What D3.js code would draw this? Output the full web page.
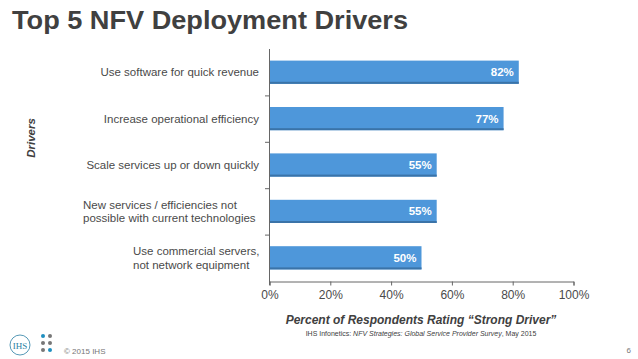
<!DOCTYPE html>
<html><head><meta charset="utf-8">
<script src="https://cdn.jsdelivr.net/npm/d3@7"></script>
<style>body{margin:0;background:#fff}svg{display:block;font-family:"Liberation Sans",Arial,sans-serif}</style>
</head><body><svg id="c" width="638" height="359"></svg>
<script>
const categories = [
  ["Use software for quick revenue"],
  ["Increase operational efficiency"],
  ["Scale services up or down quickly"],
  ["New services / efficiencies not", "possible with current technologies"],
  ["Use commercial servers,", "not network equipment"]
];
const values = [82, 77, 55, 55, 50];
const xTicks = [0, 20, 40, 60, 80, 100];

const svg = d3.select("#c");
const x = d3.scaleLinear().domain([0, 100]).range([269.5, 573.5]);
const y = d3.scaleBand().domain(d3.range(categories.length)).range([49, 281]).paddingInner(0.5).paddingOuter(0.25);

svg.append("text").attr("x", 12).attr("y", 29).attr("font-size", 26).attr("font-weight", "bold")
  .attr("fill", "#404040").attr("textLength", 396).attr("lengthAdjust", "spacingAndGlyphs")
  .text("Top 5 NFV Deployment Drivers");

// bars
const g = svg.append("g");
values.forEach((v, i) => {
  g.append("rect").attr("x", x(0)).attr("y", y(i)).attr("width", x(v) - x(0)).attr("height", y.bandwidth())
    .attr("fill", "#4E97DA");
  g.append("rect").attr("x", x(0)).attr("y", y(i) + y.bandwidth() - 2).attr("width", x(v) - x(0)).attr("height", 2)
    .attr("fill", "#3A73A8");
  g.append("text").attr("x", x(v) - 5).attr("y", y(i) + y.bandwidth() / 2 + 4).attr("text-anchor", "end")
    .attr("font-size", 11.5).attr("font-weight", "bold").attr("fill", "#fff").text(v + "%");
});

// y axis
const yb = d3.scaleBand().domain(d3.range(categories.length)).range([49, 281]);
svg.append("line").attr("x1", 269.5).attr("x2", 269.5).attr("y1", 49).attr("y2", 285).attr("stroke", "#666");
yb.domain().forEach(i => {
  if (i > 0) svg.append("line").attr("x1", 265).attr("x2", 269.5).attr("y1", yb(i) + 0.5).attr("y2", yb(i) + 0.5).attr("stroke", "#666");
});
categories.forEach((lines, i) => {
  const cy = y(i) + y.bandwidth() / 2;
  const t = svg.append("text").attr("text-anchor", lines.length > 1 ? "start" : "end").attr("font-size", 11.5).attr("fill", "#4a4a4a");
  const lh = 13.5;
  lines.forEach((ln, j) => {
    let xx = 259;
    if (lines.length > 1) xx = i === 3 ? 83 : 133;
    t.append("tspan").attr("x", xx).attr("y", cy + 4 + (j - (lines.length - 1) / 2) * lh).text(ln);
  });
});

// x axis
const xa = svg.append("g").attr("transform", "translate(0,281.5)")
  .call(d3.axisBottom(x).tickValues(xTicks).tickSize(4).tickFormat(d => d + "%"));
xa.select(".domain").attr("stroke", "#666");
xa.selectAll(".tick line").attr("stroke", "#666");
xa.selectAll(".tick text").attr("font-family", "Liberation Sans, Arial, sans-serif").attr("font-size", 12).attr("fill", "#4a4a4a").attr("dy", "0.85em");

svg.append("text").attr("transform", "translate(35,138) rotate(-90)").attr("text-anchor", "middle")
  .attr("font-size", 11.5).attr("font-weight", "bold").attr("font-style", "italic").attr("fill", "#404040").text("Drivers");

svg.append("text").attr("x", 421).attr("y", 324).attr("text-anchor", "middle").attr("font-size", 12)
  .attr("font-weight", "bold").attr("font-style", "italic").attr("fill", "#404040")
  .text("Percent of Respondents Rating \u201CStrong Driver\u201D");
const src = svg.append("text").attr("x", 421).attr("y", 336).attr("text-anchor", "middle").attr("font-size", 7).attr("fill", "#404040");
src.append("tspan").text("IHS Infonetics: ");
src.append("tspan").attr("font-style", "italic").text("NFV Strategies: Global Service Provider Survey");
src.append("tspan").text(", May 2015");

// footer
svg.append("circle").attr("cx", 20).attr("cy", 345).attr("r", 10).attr("fill", "none").attr("stroke", "#2b7fa3").attr("stroke-width", 0.8);
svg.append("text").attr("x", 20).attr("y", 348.5).attr("text-anchor", "middle").attr("font-size", 9).attr("fill", "#2b7fa3")
  .attr("font-family", "Liberation Serif, serif").text("IHS");
const dotCols = [["#1f8fc0", "#777"], ["#777", "#777"], ["#777", "#1f8fc0"]];
dotCols.forEach((row, r) => row.forEach((c, k) => {
  svg.append("circle").attr("cx", 43 + k * 7).attr("cy", 336 + r * 7).attr("r", 2).attr("fill", c);
}));
svg.append("text").attr("x", 64).attr("y", 354).attr("font-size", 8).attr("fill", "#777").text("\u00A9 2015 IHS");
svg.append("text").attr("x", 631).attr("y", 353).attr("text-anchor", "end").attr("font-size", 8).attr("fill", "#777").text("6");
</script></body></html>
